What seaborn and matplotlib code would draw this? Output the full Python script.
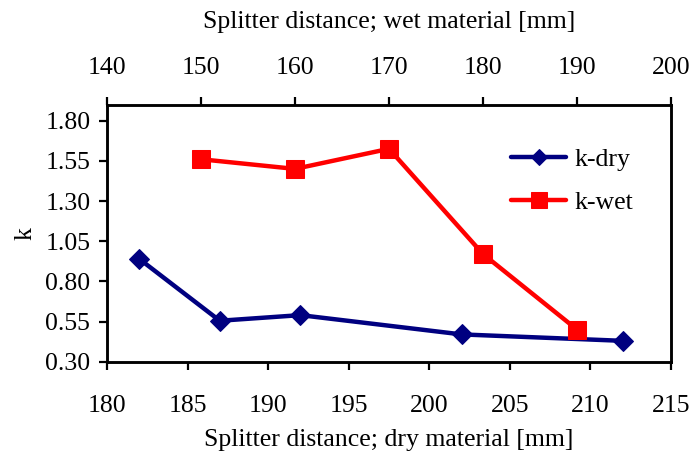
import matplotlib
matplotlib.use("Agg")
import matplotlib.pyplot as plt
import seaborn as sns
import pandas as pd

sns.set_theme(style="white")
plt.rcParams['font.family'] = ['Liberation Serif', 'DejaVu Serif']
plt.rcParams['text.color'] = 'black'
plt.rcParams['axes.labelcolor'] = 'black'

dry_x = [182, 187, 192, 202, 212]
dry_k = [0.94, 0.555, 0.59, 0.47, 0.43]
wet_x = [150, 160, 170, 180, 190]
wet_k = [1.56, 1.50, 1.625, 0.97, 0.50]

y_ticks = [0.30, 0.55, 0.80, 1.05, 1.30, 1.55, 1.80]
bottom_ticks = [180, 185, 190, 195, 200, 205, 210, 215]
top_ticks = [140, 150, 160, 170, 180, 190, 200]

FS = 18.5
fig = plt.figure(figsize=(6.92, 4.55), dpi=100)
ax = fig.add_axes([0.1546, 0.205, 0.8151, 0.564])
ax2 = ax.twiny()

dry_df = pd.DataFrame({"x": dry_x, "k": dry_k})
wet_df = pd.DataFrame({"x": wet_x, "k": wet_k})

sns.lineplot(data=dry_df, x="x", y="k", ax=ax, color="#000080", marker="D",
             markersize=10, markeredgecolor="#000080", linewidth=3.2, label="k-dry", legend=False)
sns.lineplot(data=wet_df, x="x", y="k", ax=ax2, color="#FF0000", marker="s",
             markersize=13.5, markeredgecolor="#FF0000", linewidth=3.2, label="k-wet", legend=False)

ax.set_xlim(180, 215)
ax2.set_xlim(140, 200)
ax.set_ylim(0.30, 1.897)
ax.set_xticks(bottom_ticks)
ax.set_xticklabels([str(t) for t in bottom_ticks])
ax2.set_xticks(top_ticks)
ax2.set_xticklabels([str(t) for t in top_ticks])
ax.set_yticks(y_ticks)
ax.set_yticklabels([f"{t:.2f}" for t in y_ticks])

for a in (ax, ax2):
    for s in a.spines.values():
        s.set_color("black")
        s.set_linewidth(1.8)
    a.tick_params(direction="out", length=6, width=1.6, color="black",
                  labelsize=FS, labelcolor="black", pad=6)
ax.tick_params(axis="x", bottom=True, top=False, pad=18)
ax.tick_params(axis="y", left=True, right=False, pad=6)
ax2.tick_params(axis="x", top=True, bottom=False, pad=13)

ax.set_xlabel("Splitter distance; dry material [mm]", fontsize=FS, labelpad=8.5)
ax2.set_xlabel("Splitter distance; wet material [mm]", fontsize=FS, labelpad=20.5)
ax.set_ylabel("k", fontsize=FS, labelpad=6)

h1, l1 = ax.get_legend_handles_labels()
h2, l2 = ax2.get_legend_handles_labels()
leg = ax.legend(h1 + h2, l1 + l2, loc="upper left", bbox_to_anchor=(0.676, 0.923),
                frameon=False, fontsize=FS, handlelength=2.14, markerscale=0.85,
                labelspacing=0.77, handletextpad=0.3)

fig.savefig("out.png", dpi=100)
